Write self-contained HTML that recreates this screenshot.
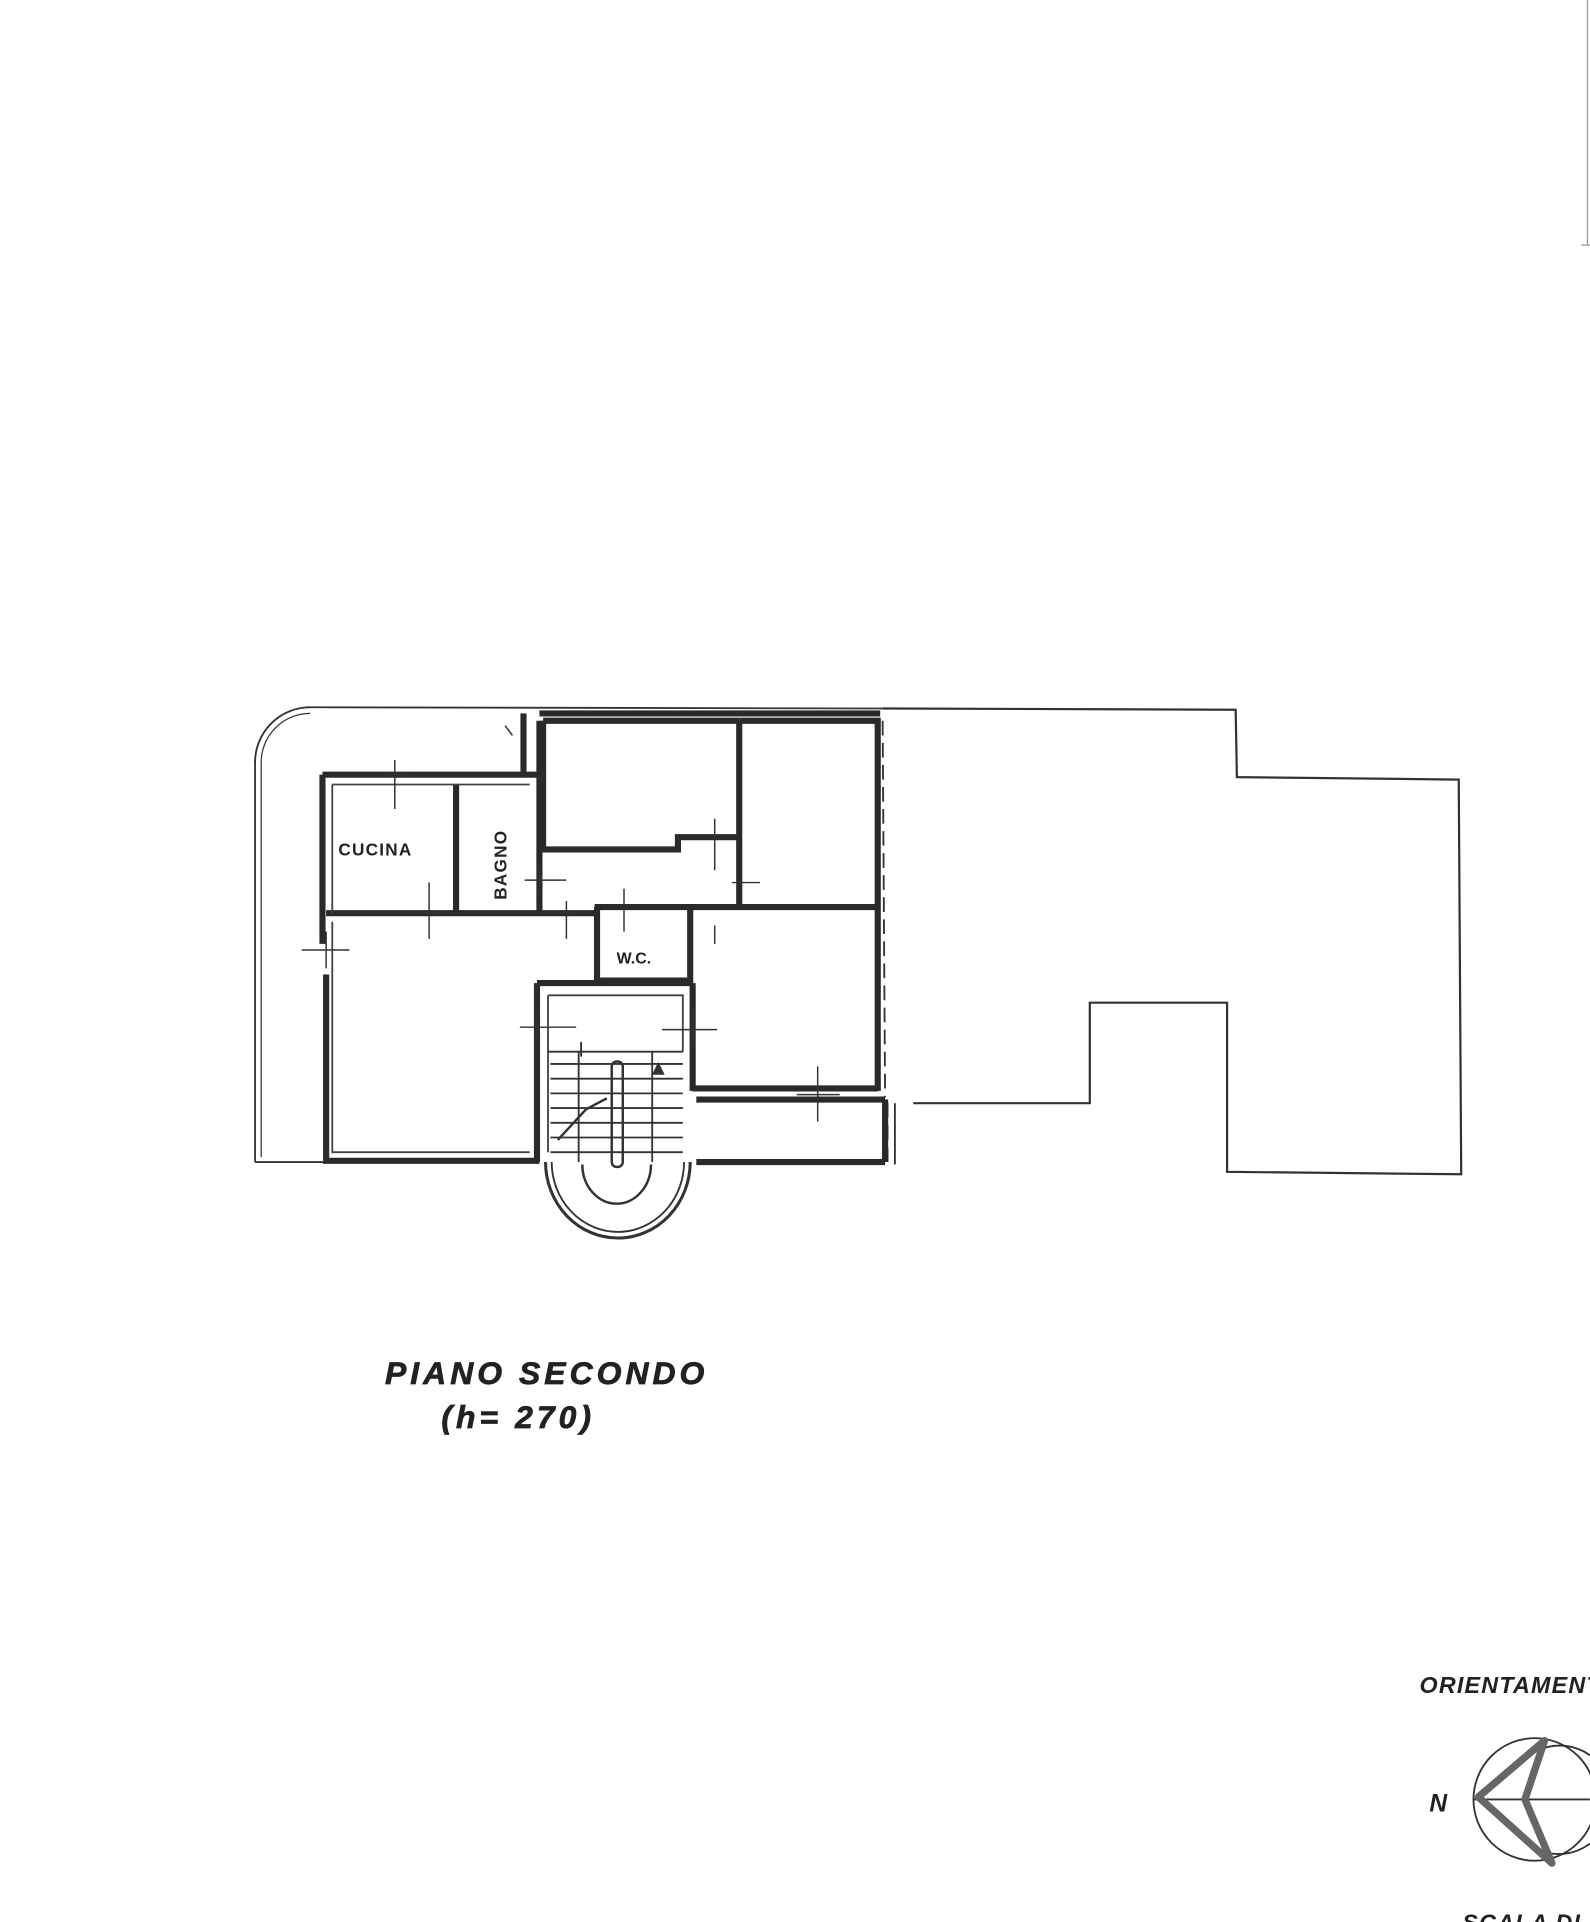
<!DOCTYPE html>
<html><head><meta charset="utf-8"><style>
html,body{margin:0;padding:0;background:#fff;}
svg{display:block;}
text{font-family:"Liberation Sans",sans-serif;}
</style></head><body>
<svg width="1590" height="1922" viewBox="0 0 1297 1568" xmlns="http://www.w3.org/2000/svg">
<rect width="1297" height="1568" fill="#fff"/>
<g fill="none" stroke="#333">
<path d="M250,577 L720,578 M208,948 L265,948 M208,620 L208,948" stroke-width="1.5"/>
<path d="M208,622 A45,45 0 0 1 253,577" stroke-width="1.5"/>
<path d="M213,622 L213,944 M213,622 A40,40 0 0 1 253,582" stroke-width="1"/>
<path d="M720,578 L1008,579 L1009,634 L1190,636 L1192,958 L1001,956 L1001,818 L889,818 L889,900 L745,900" stroke-width="1.8"/>
<path d="M730,900 L730,950" stroke-width="1.5"/>
<path d="M720,588 L722,895" stroke-width="1.5" stroke-dasharray="12,6"/>
<path d="M724,900 L724,950" stroke-width="1.5" stroke-dasharray="12,6"/>
<g stroke-width="5" stroke="#2a2a2a">
<path d="M440,582 L718,582"/>
<path d="M263,632 L440,632 M263,632 L263,770 M266,795 L266,947 L440,947"/>
<path d="M427,582 L427,632 M440,588 L440,745"/>
<path d="M372,640 L372,745"/>
<path d="M266,745 L485,745"/>
<path d="M443,588 L603,588 M443,588 L443,693 L553,693 L553,683 L603,683"/>
<path d="M603,588 L603,740 M603,588 L716,588 L716,890"/>
<path d="M485,740 L716,740"/>
<path d="M487,740 L487,800 L563,800 L563,740"/>
<path d="M438,802 L565,802 M438,802 L438,948 M565,802 L565,890"/>
<path d="M565,888 L716,888 M568,897 L722,897 M568,948 L722,948 M722,897 L722,948"/>
</g>
<g stroke-width="1.5" stroke="#444">
<path d="M271,640 L271,745 M271,640 L432,640 M271,752 L271,940 L432,940"/>
<path d="M447,812 L557,812 L557,858 M447,812 L447,940"/>
</g>
<g stroke-width="1.5" stroke="#333">
<path d="M447,858 L557,858"/>
<path d="M449,868 L557,868 M449,880 L557,880 M449,892 L557,892 M449,904 L557,904 M449,916 L557,916 M449,928 L557,928 M449,940 L557,940"/>
<path d="M472,858 L472,948 M532,858 L532,948"/>
<rect x="499" y="866" width="9" height="86" rx="4" stroke-width="2"/>
<path d="M445,948 A59,62 0 0 0 563,948" stroke-width="2.5"/>
<path d="M450,948 A54,57 0 0 0 558,948"/>
<path d="M475,950 A28,32 0 0 0 531,950" stroke-width="2"/>
<path d="M455,930 L478,905 L495,896" stroke-width="2"/>
<path d="M537,868 L533,876 L541,876 Z" fill="#333"/>
<path d="M474,850 L474,862"/>
</g>
<g stroke-width="1.2" stroke="#333">
<path d="M322,620 L322,660 M312,632 L336,632"/>
<path d="M350,720 L350,766 M340,745 L362,745"/>
<path d="M246,775 L285,775 M266,760 L266,790"/>
<path d="M428,718 L462,718 M440,705 L440,730"/>
<path d="M462,735 L462,766 M453,745 L475,745"/>
<path d="M509,725 L509,760"/>
<path d="M583,668 L583,710 M583,755 L583,770"/>
<path d="M597,720 L620,720"/>
<path d="M424,838 L470,838 M438,825 L438,850"/>
<path d="M540,840 L585,840 M565,825 L565,850"/>
<path d="M667,870 L667,915 M650,893 L685,893"/>
<path d="M412,592 L418,600"/>
</g>
</g>
<g fill="#222" font-weight="bold">
<text x="276" y="698" font-size="14" letter-spacing="1">CUCINA</text>
<text x="0" y="0" font-size="14" letter-spacing="1" transform="translate(413,734) rotate(-90)">BAGNO</text>
<text x="503" y="786" font-size="13">W.C.</text>
<text x="314" y="1129" font-size="26" font-style="italic" letter-spacing="3.3" stroke="#222" stroke-width="0.6">PIANO  SECONDO</text>
<text x="360" y="1165" font-size="26" font-style="italic" letter-spacing="3.3" stroke="#222" stroke-width="0.6">(h= 270)</text>
<text x="1158" y="1381" font-size="19" font-style="italic" letter-spacing="1">ORIENTAMENTO</text>
<text x="1166" y="1478" font-size="20" font-style="italic">N</text>
<text x="1193" y="1575" font-size="19" font-style="italic" letter-spacing="1">SCALA DI</text>
</g>
<g fill="none" stroke="#333" stroke-width="1.5">
<circle cx="1252" cy="1468" r="50"/>
<path d="M1202,1468 L1297,1468"/>
<path d="M1257,1427 A42,42 0 0 1 1297,1432 M1257,1510 A42,42 0 0 0 1297,1504"/>
<path d="M1260,1420 L1206,1466 L1266,1520 L1244,1468 Z" stroke="#666" stroke-width="6" stroke-linejoin="round"/>
</g>
<path d="M1295,0 L1295,200 M1290,200 L1297,200" stroke="#999" stroke-width="1"/>
</svg>
</body></html>
